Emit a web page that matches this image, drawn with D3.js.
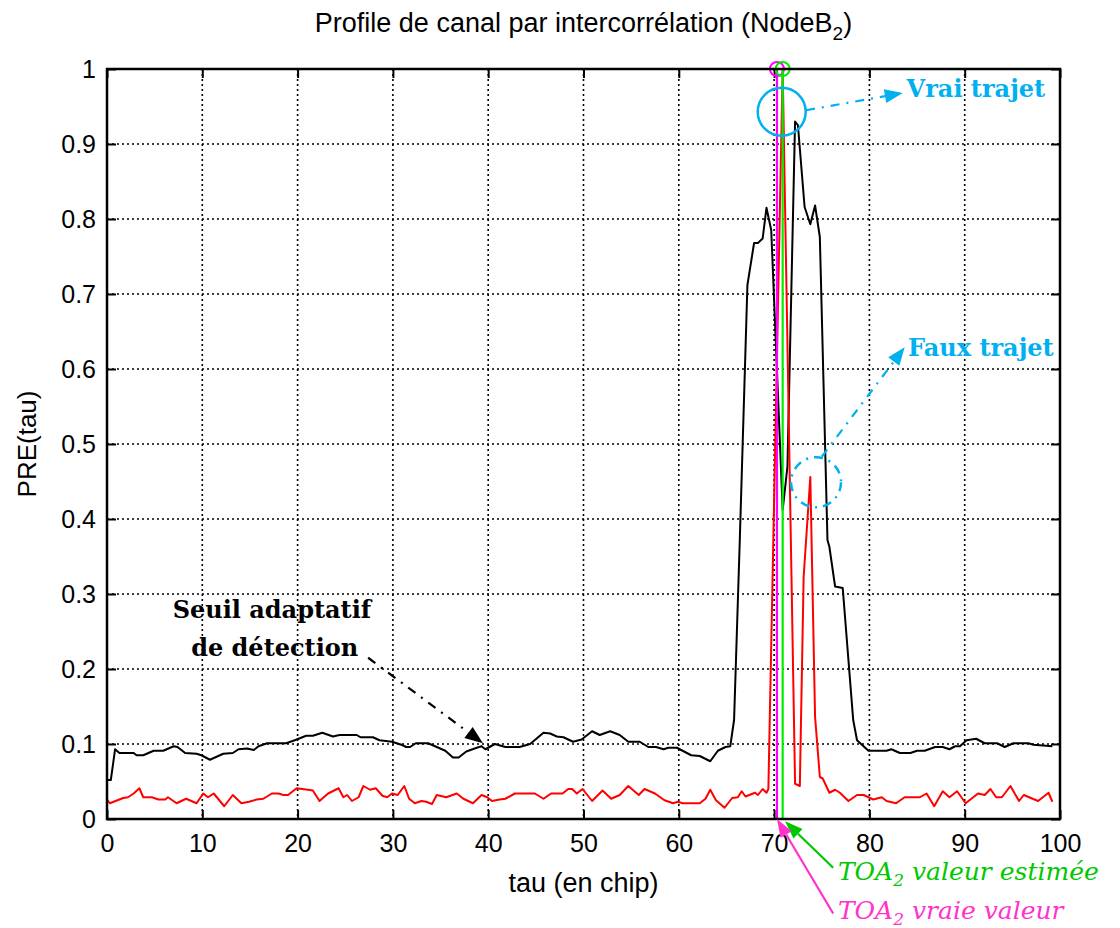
<!DOCTYPE html>
<html>
<head>
<meta charset="utf-8">
<script src="https://cdn.jsdelivr.net/npm/d3@7"></script>
<style>
  body { margin: 0; background: #fff; }
</style>
</head>
<body>
<div id="chart"></div>
<script>
// adaptive detection threshold (black), [tau, value]
const seuil = [[0,0.052],[0.4,0.052],[0.85,0.093],[1.3,0.088],[2.8,0.088],[3.1,0.085],[3.8,0.085],[4.9,0.091],[5.9,0.091],[7.0,0.097],[7.4,0.096],[8.2,0.088],[9.4,0.087],[9.9,0.085],[10.8,0.079],[12.2,0.087],[13.2,0.088],[13.8,0.093],[14.7,0.094],[15.4,0.092],[15.9,0.097],[16.8,0.101],[18.8,0.101],[19.7,0.105],[20.9,0.111],[21.6,0.111],[22.6,0.115],[23.7,0.110],[24.4,0.112],[26.2,0.112],[26.6,0.109],[27.9,0.109],[28.6,0.105],[29.9,0.103],[30.9,0.099],[31.4,0.096],[31.8,0.096],[32.4,0.101],[33.7,0.101],[34.6,0.096],[35.5,0.091],[36.3,0.082],[36.9,0.082],[37.7,0.090],[38.8,0.095],[39.3,0.097],[39.7,0.093],[40.7,0.100],[41.8,0.096],[43.3,0.096],[44.4,0.100],[45.8,0.115],[46.5,0.114],[47.2,0.110],[47.9,0.109],[48.9,0.103],[49.8,0.106],[50.9,0.117],[51.7,0.112],[52.8,0.117],[53.8,0.112],[54.7,0.103],[55.9,0.103],[56.8,0.096],[57.6,0.096],[58.4,0.093],[58.9,0.095],[59.8,0.095],[60.4,0.091],[61.3,0.085],[62.2,0.084],[63.3,0.077],[64.1,0.091],[64.9,0.096],[65.4,0.097],[65.8,0.132],[66.4,0.372],[67.2,0.712],[67.9,0.768],[68.3,0.768],[68.8,0.774],[69.2,0.815],[69.7,0.785],[70.9,0.412],[71.4,0.47],[72.2,0.930],[72.5,0.925],[73.2,0.816],[73.8,0.793],[74.3,0.818],[74.8,0.776],[75.6,0.372],[75.8,0.363],[76.4,0.310],[77.2,0.308],[78.3,0.132],[78.7,0.105],[79.9,0.091],[81.8,0.091],[82.3,0.093],[83.2,0.088],[84.3,0.088],[85.0,0.091],[85.8,0.091],[86.9,0.096],[87.7,0.096],[88.4,0.093],[89.0,0.097],[89.5,0.097],[90.2,0.105],[91.2,0.107],[92.1,0.101],[93.4,0.101],[94.2,0.096],[95.1,0.101],[96.7,0.101],[97.2,0.099],[99.2,0.097]];

// channel profile PRE(tau) (red), [tau, value]
const pre = [[0,0.026],[0.3,0.021],[0.9,0.024],[1.7,0.028],[2.2,0.029],[2.8,0.034],[3.4,0.041],[3.8,0.029],[4.7,0.029],[5.4,0.026],[6.1,0.026],[6.4,0.029],[7.3,0.021],[8.3,0.027],[9.4,0.021],[10.1,0.034],[10.6,0.029],[11.2,0.034],[12.3,0.017],[13.2,0.032],[14.1,0.021],[14.9,0.023],[15.7,0.026],[16.4,0.027],[17.3,0.034],[18.0,0.034],[18.5,0.032],[19.0,0.032],[19.9,0.041],[21.1,0.039],[21.6,0.038],[22.3,0.024],[23.2,0.034],[24.3,0.041],[24.8,0.029],[25.2,0.032],[25.7,0.024],[26.4,0.029],[26.9,0.044],[27.6,0.039],[28.2,0.041],[28.9,0.031],[29.4,0.029],[29.9,0.034],[30.5,0.032],[31.2,0.044],[31.7,0.027],[32.3,0.021],[33.0,0.024],[33.5,0.023],[34.1,0.020],[34.6,0.032],[35.6,0.029],[36.7,0.034],[37.4,0.027],[38.4,0.021],[39.3,0.032],[39.9,0.029],[40.4,0.024],[41.2,0.026],[41.8,0.027],[42.8,0.034],[44.9,0.034],[45.8,0.027],[46.6,0.034],[47.8,0.034],[48.4,0.040],[48.8,0.040],[49.3,0.034],[49.9,0.040],[50.9,0.024],[52.0,0.038],[52.9,0.027],[53.8,0.032],[54.7,0.044],[55.8,0.032],[56.4,0.040],[57.5,0.034],[58.5,0.025],[59.4,0.021],[59.9,0.023],[60.4,0.021],[62.2,0.021],[62.8,0.027],[63.3,0.039],[63.9,0.025],[64.8,0.015],[65.6,0.028],[66.2,0.029],[66.6,0.037],[67.0,0.030],[68.0,0.035],[68.3,0.032],[68.8,0.040],[69.2,0.035],[69.4,0.040],[70.9,1.0],[72.2,0.047],[72.7,0.044],[73.1,0.323],[73.8,0.456],[74.3,0.136],[74.8,0.056],[75.1,0.054],[75.8,0.035],[76.4,0.039],[76.9,0.035],[77.8,0.024],[78.7,0.032],[79.4,0.032],[80.4,0.026],[81.3,0.029],[81.8,0.024],[82.8,0.021],[83.7,0.029],[85.3,0.029],[86.0,0.034],[86.8,0.017],[87.7,0.037],[88.4,0.029],[89.2,0.037],[90.1,0.021],[91.4,0.034],[92.1,0.032],[92.7,0.040],[93.3,0.029],[93.9,0.029],[94.8,0.044],[95.7,0.024],[96.2,0.032],[97.7,0.024],[98.8,0.035],[99.2,0.023]];

const toaVrai = 70.3;     // true TOA (magenta)
const toaEstime = 70.9;   // estimated TOA (green)

const xTicks = [0, 10, 20, 30, 40, 50, 60, 70, 80, 90, 100];
const yTicks = [0, 0.1, 0.2, 0.3, 0.4, 0.5, 0.6, 0.7, 0.8, 0.9, 1];

const margin = {top: 69, right: 60, bottom: 109, left: 107};
const W = 1120, H = 928;
const width = W - margin.left - margin.right;
const height = H - margin.top - margin.bottom;

const sans = "Liberation Sans, Arial, sans-serif";
const serif = "DejaVu Serif, serif";
const blue = "#00b0f0";
const green = "#00c800";
const pink = "#ff33cc";

const svg = d3.select("#chart").append("svg")
  .attr("width", W).attr("height", H)
  .attr("font-family", sans);

const g = svg.append("g")
  .attr("transform", `translate(${margin.left},${margin.top})`);

const x = d3.scaleLinear().domain([0, 100]).range([0, width]);
const y = d3.scaleLinear().domain([0, 1]).range([height, 0]);

// grid
g.append("g").selectAll("line")
  .data(xTicks.slice(1, -1)).enter().append("line")
    .attr("x1", d => x(d)).attr("x2", d => x(d))
    .attr("y1", 0).attr("y2", height)
    .attr("stroke", "#000").attr("stroke-width", 1.6)
    .attr("stroke-dasharray", "2,3");
g.append("g").selectAll("line")
  .data(yTicks.slice(1, -1)).enter().append("line")
    .attr("y1", d => y(d)).attr("y2", d => y(d))
    .attr("x1", 0).attr("x2", width)
    .attr("stroke", "#000").attr("stroke-width", 1.6)
    .attr("stroke-dasharray", "2,3");

// axes (ticks inside, on all four sides)
const fmt = d => d3.format("~g")(d);
const xAxis = g.append("g").attr("transform", `translate(0,${height})`)
  .call(d3.axisBottom(x).tickValues(xTicks).tickFormat(fmt).tickSizeInner(-9).tickSizeOuter(0).tickPadding(15));
const xTop = g.append("g")
  .call(d3.axisTop(x).tickValues(xTicks).tickFormat("").tickSizeInner(-9).tickSizeOuter(0));
const yAxis = g.append("g")
  .call(d3.axisLeft(y).tickValues(yTicks).tickFormat(fmt).tickSizeInner(-9).tickSizeOuter(0).tickPadding(11));
const yRight = g.append("g").attr("transform", `translate(${width},0)`)
  .call(d3.axisRight(y).tickValues(yTicks).tickFormat("").tickSizeInner(-9).tickSizeOuter(0));

[xAxis, xTop, yAxis, yRight].forEach(a => {
  a.attr("font-family", sans);
  a.select(".domain").remove();
  a.selectAll("line").attr("stroke", "#000").attr("stroke-width", 2);
  a.selectAll("text").attr("font-size", 25).attr("fill", "#000");
});

const line = d3.line().x(d => x(d[0])).y(d => y(d[1]));

g.append("path").datum(seuil)
  .attr("d", line).attr("fill", "none")
  .attr("stroke", "#000").attr("stroke-width", 2).attr("stroke-linejoin", "round");

g.append("path").datum(pre)
  .attr("d", line).attr("fill", "none")
  .attr("stroke", "#ff0000").attr("stroke-width", 2).attr("stroke-linejoin", "round");

// TOA markers
g.append("line")
  .attr("x1", x(toaVrai)).attr("x2", x(toaVrai)).attr("y1", y(0)).attr("y2", y(1))
  .attr("stroke", "#ff00ff").attr("stroke-width", 2.2);
g.append("circle").attr("cx", x(toaVrai)).attr("cy", y(1)).attr("r", 7)
  .attr("fill", "none").attr("stroke", "#ff00ff").attr("stroke-width", 2);
g.append("line")
  .attr("x1", x(toaEstime)).attr("x2", x(toaEstime)).attr("y1", y(0)).attr("y2", y(1))
  .attr("stroke", "#00ee00").attr("stroke-width", 2.2);
g.append("circle").attr("cx", x(toaEstime)).attr("cy", y(1)).attr("r", 7)
  .attr("fill", "none").attr("stroke", "#00ee00").attr("stroke-width", 2);

// frame
g.append("rect").attr("width", width).attr("height", height)
  .attr("fill", "none").attr("stroke", "#000").attr("stroke-width", 2.5);

// arrow helper: line from p1 to tip p2 (data units), filled triangle head
function arrow(p1, p2, color, dash, headL, headW) {
  const x1 = x(p1[0]), y1 = y(p1[1]), x2 = x(p2[0]), y2 = y(p2[1]);
  const a = Math.atan2(y2 - y1, x2 - x1);
  const bx = x2 - headL * Math.cos(a), by = y2 - headL * Math.sin(a);
  g.append("line")
    .attr("x1", x1).attr("y1", y1).attr("x2", bx).attr("y2", by)
    .attr("stroke", color).attr("stroke-width", 2.2)
    .attr("stroke-dasharray", dash);
  const nx = -Math.sin(a) * headW / 2, ny = Math.cos(a) * headW / 2;
  g.append("path")
    .attr("d", `M${x2},${y2}L${bx + nx},${by + ny}L${bx - nx},${by - ny}Z`)
    .attr("fill", color);
}

function boldLabel(tx, ty, color, txt) {
  return g.append("text").attr("x", x(tx)).attr("y", y(ty))
    .attr("font-family", serif).attr("font-weight", "bold")
    .attr("font-size", 24).attr("fill", color).text(txt);
}

// "Vrai trajet"
g.append("circle").attr("cx", x(70.8)).attr("cy", y(0.943)).attr("r", 24)
  .attr("fill", "none").attr("stroke", blue).attr("stroke-width", 2.5);
arrow([73.35, 0.945], [83.5, 0.968], blue, "9,7,2,7", 18, 14);
boldLabel(83.9, 0.963, blue, "Vrai trajet");

// "Faux trajet"
g.append("circle").attr("cx", x(74.4)).attr("cy", y(0.449)).attr("r", 25)
  .attr("fill", "none").attr("stroke", blue).attr("stroke-width", 2.5)
  .attr("stroke-dasharray", "9,6,2,6");
arrow([75.0, 0.483], [83.7, 0.629], blue, "9,7,2,7", 18, 14);
boldLabel(84.05, 0.617, blue, "Faux trajet");

// "Seuil adaptatif de détection"
boldLabel(17.3, 0.268, "#000", "Seuil adaptatif").attr("text-anchor", "middle");
boldLabel(17.6, 0.217, "#000", "de détection").attr("text-anchor", "middle");
arrow([27.4, 0.215], [39.45, 0.101], "#000", "9,7,2,7", 18, 14);

// TOA annotations below the axis
arrow([76.2, -0.065], [71.15, -0.003], green, null, 18, 13);
arrow([76.2, -0.126], [70.3, 0], pink, null, 18, 13);

function toaLabel(v, color, rest) {
  const t = g.append("text").attr("x", x(76.7)).attr("y", y(v))
    .attr("font-family", serif).attr("font-style", "italic")
    .attr("font-size", 25).attr("fill", color);
  t.append("tspan").text("TOA");
  t.append("tspan").attr("font-size", 17).attr("dy", 6).text("2");
  t.append("tspan").attr("dy", -6).text(" " + rest);
}
toaLabel(-0.081, green, "valeur estimée");
toaLabel(-0.133, pink, "vraie valeur");

// title and axis labels
const title = svg.append("text").attr("x", margin.left + width / 2).attr("y", 32)
  .attr("text-anchor", "middle").attr("font-size", 27).attr("fill", "#000");
title.append("tspan").text("Profile de canal par intercorrélation (NodeB");
title.append("tspan").attr("font-size", 19).attr("dy", 8).text("2");
title.append("tspan").attr("dy", -8).text(")");

svg.append("text").attr("x", margin.left + width / 2).attr("y", 892)
  .attr("text-anchor", "middle").attr("font-size", 27).attr("fill", "#000")
  .text("tau (en chip)");

svg.append("text")
  .attr("transform", `translate(36,${margin.top + height / 2}) rotate(-90)`)
  .attr("text-anchor", "middle").attr("font-size", 26).attr("fill", "#000")
  .text("PRE(tau)");
</script>
</body>
</html>
